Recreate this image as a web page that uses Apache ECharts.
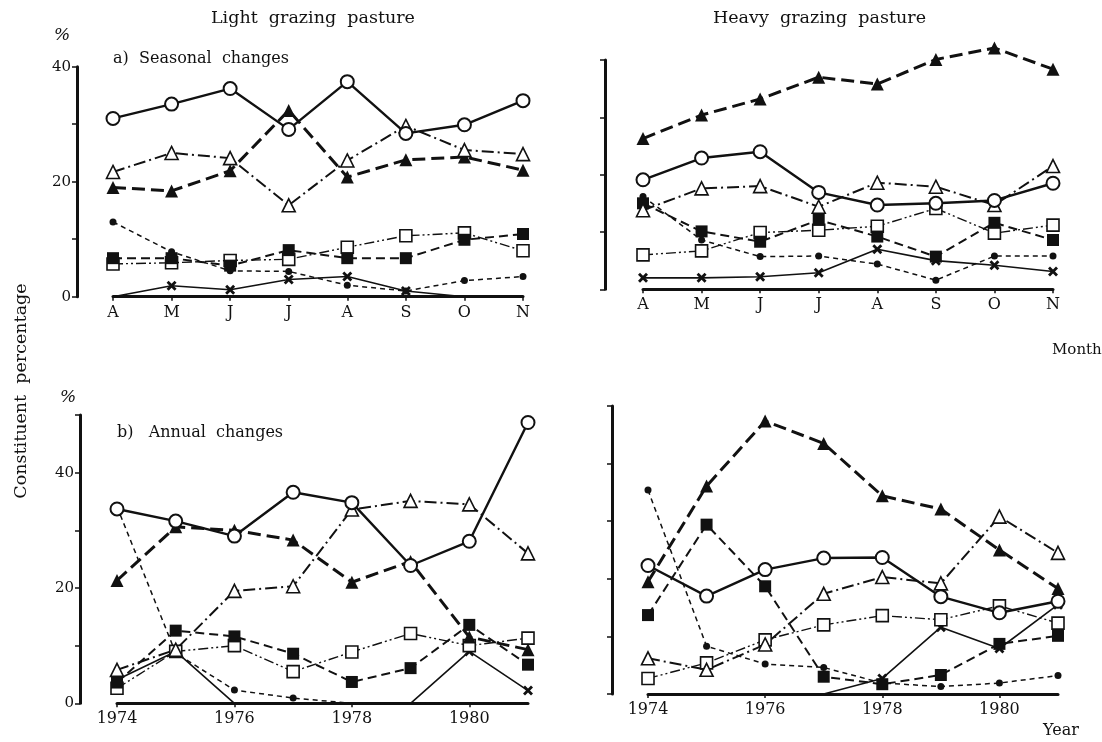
<!DOCTYPE html>
<html><head><meta charset="utf-8">
<script src="https://cdn.jsdelivr.net/npm/echarts@6/dist/echarts.min.js"></script>
<style>html,body{margin:0;padding:0;background:#fff}#c{width:1102px;height:742px}</style>
</head><body><div id="c"></div>
<script>
// ---- categories / tick labels ----
const months = ['A','M','J','J','A','S','O','N'];
const years = ['1974','1975','1976','1977','1978','1979','1980','1981'];

// ---- a) Seasonal changes, light grazing ----
const lsOpenCircle = [31.0,33.5,36.2,29.1,37.4,28.4,29.9,34.1];
const lsOpenTri    = [21.7,25.0,24.1,15.9,23.7,29.7,25.5,24.8];
const lsFilledTri  = [19.0,18.4,21.9,32.4,20.8,23.8,24.3,22.0];
const lsDot        = [13.0,7.8,4.5,4.4,2.0,1.0,2.8,3.5];
const lsFilledSq   = [6.7,6.7,5.4,8.1,6.7,6.7,9.9,10.9];
const lsOpenSq     = [5.7,5.9,6.3,6.5,8.6,10.6,11.1,8.0];
const lsX          = [0,1.9,1.2,3.0,3.5,1.0,0,0];

// ---- a) Seasonal changes, heavy grazing ----
const hsFilledTri  = [26.3,30.4,33.2,37.0,35.8,40.1,42.1,38.4];
const hsOpenCircle = [19.1,22.9,24.0,16.9,14.7,15.0,15.5,18.5];
const hsOpenTri    = [13.8,17.6,18.0,14.4,18.6,17.9,14.7,21.5];
const hsFilledSq   = [15.0,10.1,8.3,12.1,9.2,5.7,11.6,8.6];
const hsDot        = [16.2,8.6,5.7,5.8,4.4,1.6,5.8,5.8];
const hsOpenSq     = [6.0,6.7,9.9,10.3,11.0,14.1,9.8,11.2];
const hsX          = [2.0,2.0,2.2,2.9,7.0,5.0,4.2,3.1];

// ---- b) Annual changes, light grazing ----
const laOpenCircle = [33.7,31.6,29.0,36.6,34.8,23.9,28.1,48.7];
const laFilledTri  = [21.3,30.6,30.0,28.3,21.0,24.6,11.5,9.3];
const laOpenTri    = [5.8,9.3,19.5,20.3,33.6,35.1,34.5,26.0];
const laDot        = [34.1,8.7,2.3,0.9,0,0,0,0];
const laFilledSq   = [3.6,12.6,11.6,8.6,3.7,6.1,13.6,6.7];
const laOpenSq     = [2.6,9.0,10.0,5.5,8.9,12.1,10.0,11.3];
const laX          = [4.1,9.0,0,0,0,0,9.0,2.2];

// ---- b) Annual changes, heavy grazing ----
const haFilledTri  = [19.5,36.1,47.4,43.5,34.4,32.1,25.0,18.3];
const haOpenCircle = [22.3,17.0,21.6,23.6,23.7,16.9,14.1,16.1];
const haOpenTri    = [6.2,4.2,8.6,17.4,20.3,19.2,30.8,24.5];
const haFilledSq   = [13.7,29.4,18.7,3.0,1.7,3.3,8.7,10.1];
const haDot        = [35.4,8.3,5.2,4.6,1.9,1.3,1.9,3.2];
const haOpenSq     = [2.7,5.4,9.4,12.0,13.6,12.9,15.3,12.3];
const haX          = [0,0,0,0,2.7,11.6,7.9,15.5];

const FONT = '"DejaVu Serif","Liberation Serif",serif';
const INK = '#111';
const XPATH = 'path://M2,0 L5,3 L8,0 L10,2 L7,5 L10,8 L8,10 L5,7 L2,10 L0,8 L3,5 L0,2 Z';

const styles = {
  openCircle: {symbol:'circle', size:13, item:{color:'#fff',borderColor:INK,borderWidth:2}, line:{width:2.4,type:'solid'}},
  filledTri:  {symbol:'triangle', size:13, item:{color:INK}, line:{width:3,type:[13,6]}},
  openTri:    {symbol:'triangle', size:13, item:{color:'#fff',borderColor:INK,borderWidth:1.6}, line:{width:2,type:[12,4,2,4]}},
  filledSq:   {symbol:'rect', size:12, item:{color:INK}, line:{width:2,type:[9,5]}},
  openSq:     {symbol:'rect', size:12, item:{color:'#fff',borderColor:INK,borderWidth:1.6}, line:{width:1.4,type:[10,3,2,3,2,3]}},
  dot:        {symbol:'circle', size:7, item:{color:INK}, line:{width:1.5,type:[5,4]}},
  cross:      {symbol:XPATH, size:10, item:{color:INK}, line:{width:1.6,type:'solid'}}
};

function mk(gi, arr, kind){
  const s = styles[kind];
  return {
    type:'line', xAxisIndex:gi, yAxisIndex:gi, clip:false,
    data: arr.map(v => v === 0 ? {value:0, symbol:'none'} : v),
    symbol:s.symbol, symbolSize:s.size, showAllSymbol:true,
    itemStyle:s.item, lineStyle:Object.assign({color:INK}, s.line),
    emphasis:{disabled:true}, silent:true, z: kind==='cross'?2:3
  };
}

const grids = [
  {left:113, top:66.7, width:410, height:230},
  {left:643, top:60,   width:410, height:229.3},
  {left:117, top:415,  width:411, height:288.3},
  {left:648, top:406,  width:410, height:288}
];
const yMax = [40,40,50,50];
const yOff = [36,38,37,36];
const yLabels = [true,false,true,false];

const xAxes = grids.map((g,i) => ({
  type:'category', gridIndex:i, data: i<2 ? months : years, boundaryGap:false,
  axisLine:{lineStyle:{color:INK,width:3}},
  axisTick:{show:true,length:4,lineStyle:{color:INK,width:1.5}},
  axisLabel:{color:INK, fontFamily:FONT, fontSize:16, margin:8, interval: i<2 ? 0 : 1},
  splitLine:{show:false}
}));
const yAxes = grids.map((g,i) => ({
  type:'value', gridIndex:i, min:0, max:yMax[i], interval:10, offset:yOff[i],
  axisLine:{show:true,lineStyle:{color:INK,width:3}},
  axisTick:{show:true,length:5,lineStyle:{color:INK,width:1.5}},
  axisLabel:{show:yLabels[i], color:INK, fontFamily:FONT, fontSize:15, margin:6,
    formatter: v => (v % 20 === 0 ? String(v) : '')},
  splitLine:{show:false}
}));

const series = [
  mk(0,lsOpenSq,'openSq'), mk(0,lsFilledSq,'filledSq'), mk(0,lsDot,'dot'), mk(0,lsX,'cross'),
  mk(0,lsFilledTri,'filledTri'), mk(0,lsOpenTri,'openTri'), mk(0,lsOpenCircle,'openCircle'),
  mk(1,hsOpenSq,'openSq'), mk(1,hsDot,'dot'), mk(1,hsX,'cross'), mk(1,hsFilledSq,'filledSq'),
  mk(1,hsOpenTri,'openTri'), mk(1,hsOpenCircle,'openCircle'), mk(1,hsFilledTri,'filledTri'),
  mk(2,laDot,'dot'), mk(2,laX,'cross'), mk(2,laOpenSq,'openSq'), mk(2,laFilledSq,'filledSq'),
  mk(2,laOpenTri,'openTri'), mk(2,laFilledTri,'filledTri'), mk(2,laOpenCircle,'openCircle'),
  mk(3,haDot,'dot'), mk(3,haX,'cross'), mk(3,haOpenSq,'openSq'), mk(3,haFilledSq,'filledSq'),
  mk(3,haOpenTri,'openTri'), mk(3,haOpenCircle,'openCircle'), mk(3,haFilledTri,'filledTri')
];

function txt(x,y,text,font,extra){
  return Object.assign({type:'text', x:x, y:y, silent:true,
    style:{text:text, fill:INK, font: font, textVerticalAlign:'middle'}}, extra||{});
}

const chart = echarts.init(document.getElementById('c'), null, {renderer:'canvas'});
chart.setOption({
  animation:false,
  backgroundColor:'#fff',
  grid:grids, xAxis:xAxes, yAxis:yAxes, series:series,
  graphic:[
    txt(211,18,'Light  grazing  pasture','17.5px '+FONT),
    txt(713,18,'Heavy  grazing  pasture','17.5px '+FONT),
    txt(54,36,'%','italic 17px '+FONT),
    txt(113,59,'a)  Seasonal  changes','16px '+FONT),
    txt(60,398,'%','italic 17px '+FONT),
    txt(117,433,'b)   Annual  changes','16px '+FONT),
    txt(1052,350,'Month','15px '+FONT),
    txt(1043,731,'Year','16px '+FONT),
    {type:'text', x:21, y:391, rotation:Math.PI/2, silent:true,
      style:{text:'Constituent  percentage', fill:INK, font:'17.5px '+FONT, textAlign:'center', textVerticalAlign:'middle'}}
  ]
});
</script></body></html>
